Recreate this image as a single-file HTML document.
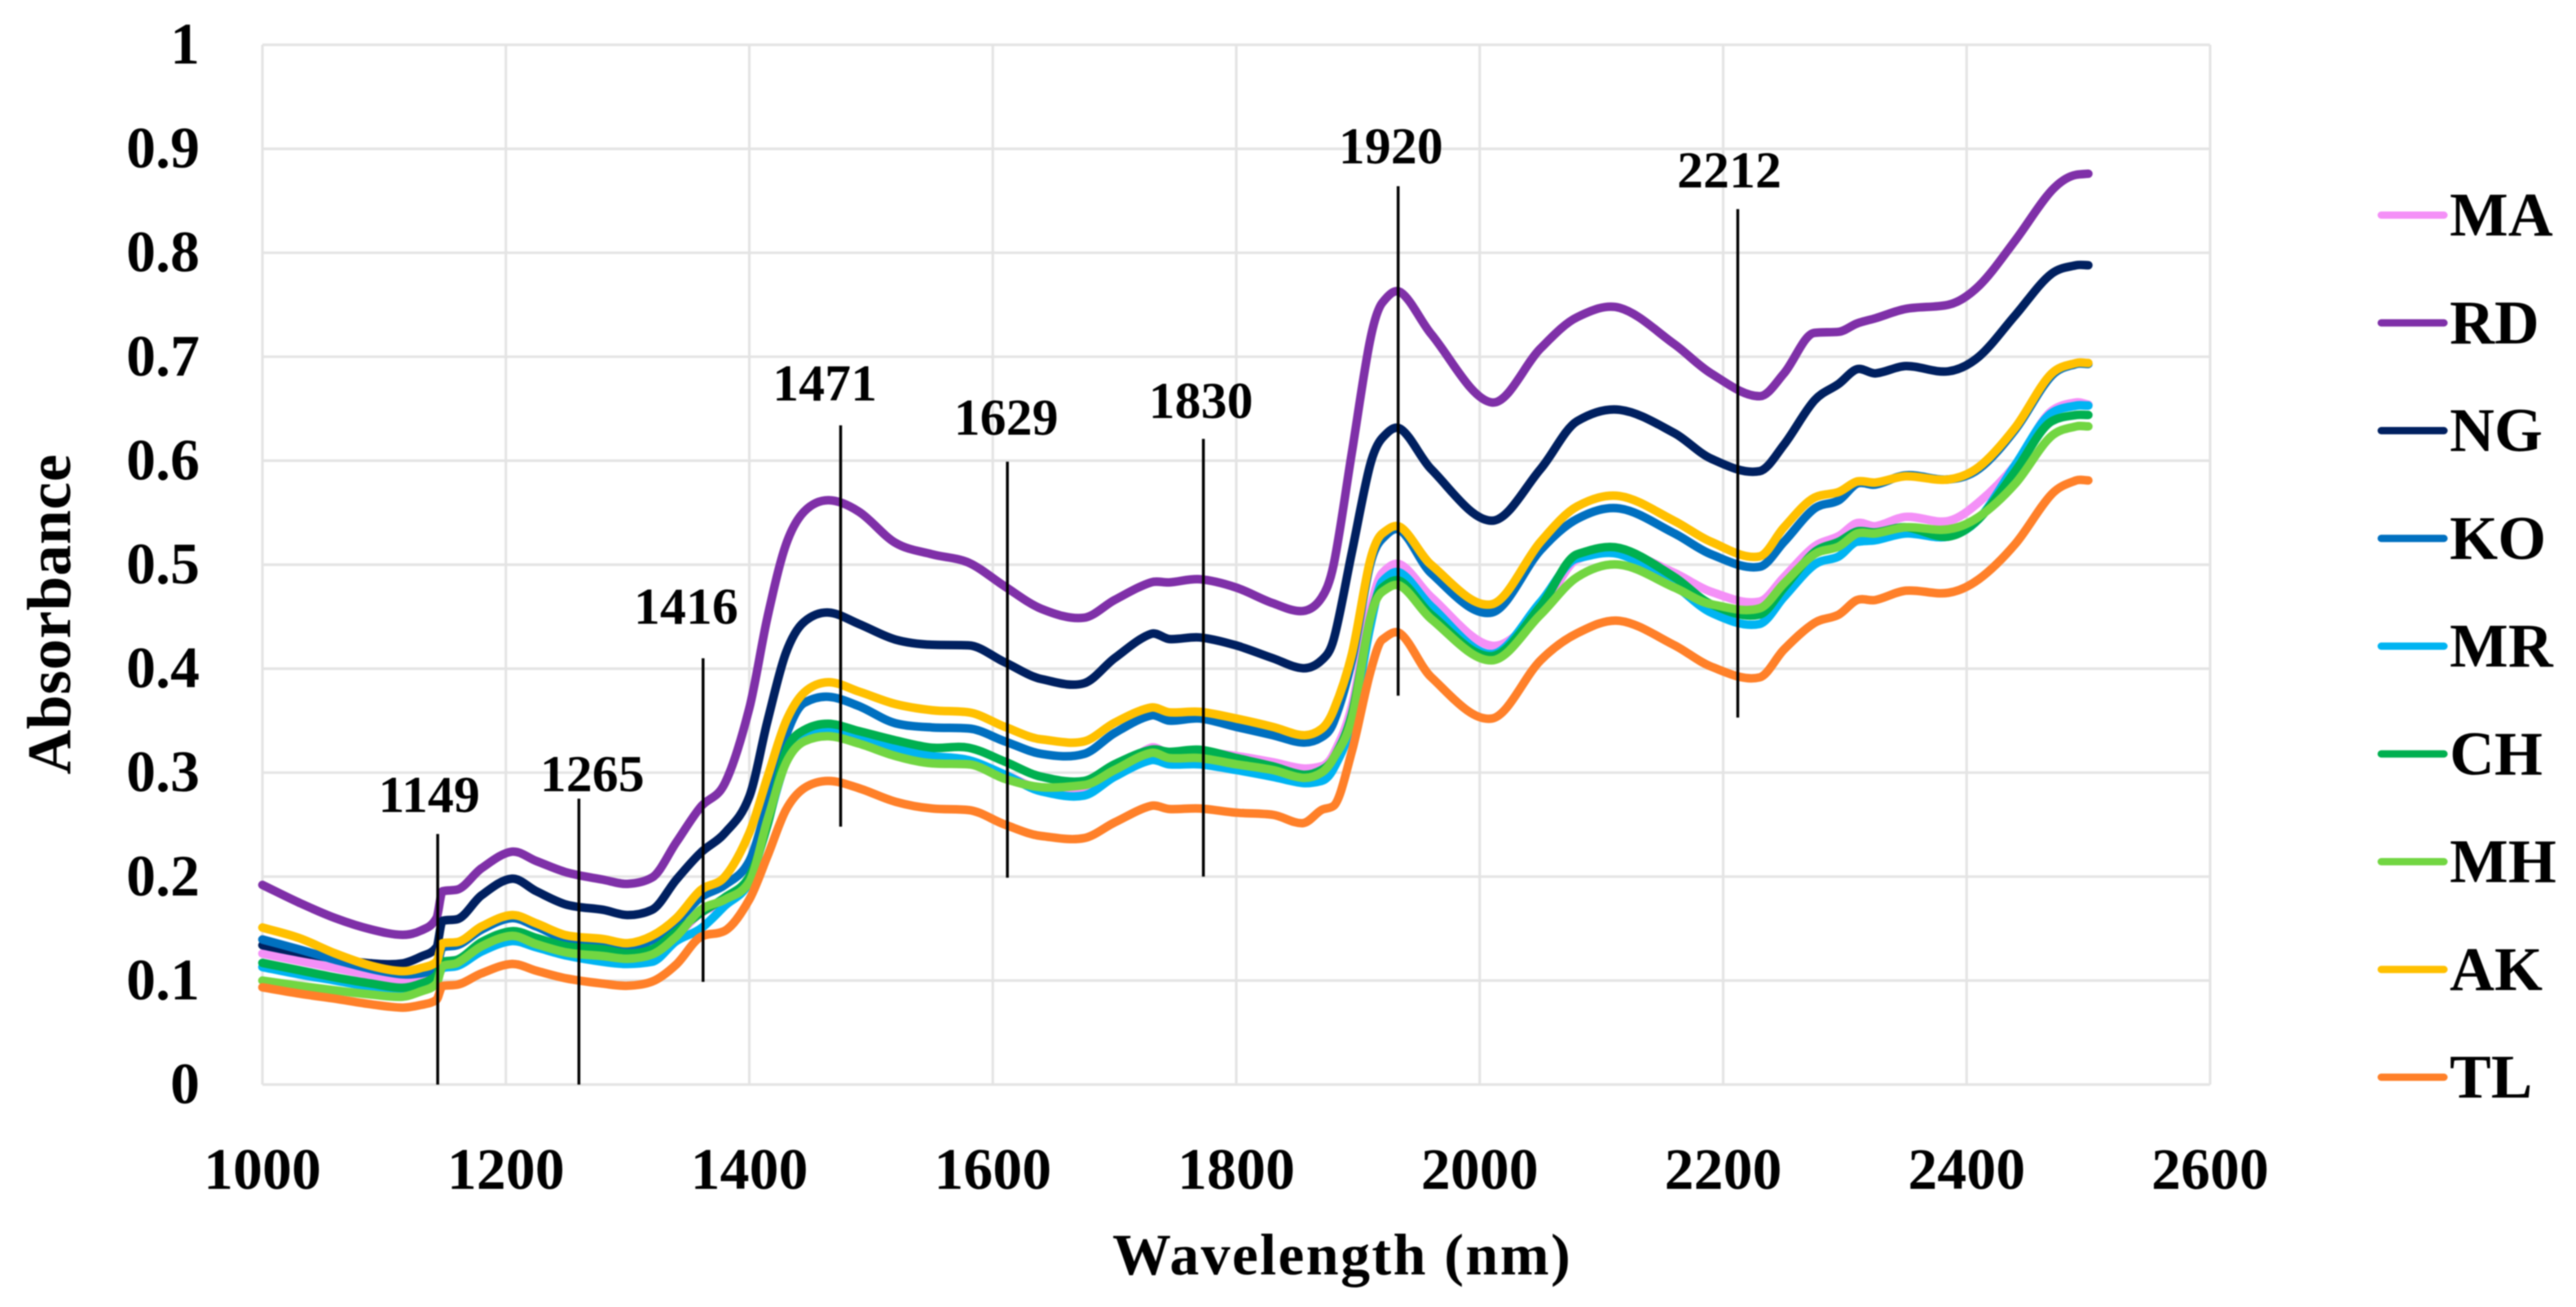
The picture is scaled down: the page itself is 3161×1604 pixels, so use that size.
<!DOCTYPE html>
<html lang="en">
<head>
<meta charset="utf-8">
<title>Absorbance spectra</title>
<style>
html,body{margin:0;padding:0;background:#fff;}
svg{display:block;filter:blur(0.7px);}
text{font-family:"Liberation Serif",serif;font-weight:bold;fill:#000;}
</style>
</head>
<body>
<svg id="chart" xmlns="http://www.w3.org/2000/svg" width="3161" height="1604" viewBox="0 0 3161 1604">
<rect width="3161" height="1604" fill="#fff"/>
<g id="grid"></g>
<g id="ticks"></g>
<g id="series"></g>
<g id="bands"></g>
<g id="legend"></g>
<text x="1646" y="1564" font-size="72" text-anchor="middle" textLength="562" lengthAdjust="spacing">Wavelength (nm)</text>
<text transform="translate(86,754) rotate(-90)" font-size="76" text-anchor="middle" textLength="393" lengthAdjust="spacing">Absorbance</text>
</svg>
<script>
const wavelengths = [1000,1030,1060,1090,1115,1130,1143,1148,1160,1180,1205,1225,1250,1280,1300,1320,1340,1360,1380,1400,
1415,1430,1445,1465,1490,1520,1550,1580,1610,1640,
1675,1700,1730,1745,1770,1800,1830,1855,1870,1880,
1895,1910,1920,1935,1960,2010,2050,2080,2115,2160,
2190,2230,2250,2275,2295,2310,2325,2350,2385,2410,
2440,2470,2490,2500];

const valuesMA = [.126,.119,.112,.105,.100,.101,.107,.118,.120,.134,.146,.139,.128,.125,.121,.127,.143,.165,.176,.196,
.252,.310,.333,.341,.334,.322,.314,.310,.298,.284,
.286,.300,.324,.318,.320,.316,.310,.304,.306,.318,
.364,.456,.492,.500,.469,.422,.456,.505,.513,.492,
.474,.4645,.488,.5175,.5275,.540,.537,.546,.542,.560,
.596,.648,.656,.654];

const valuesRD = [.192,.175,.160,.149,.144,.148,.160,.186,.1875,.208,.224,.215,.204,.197,.193,.199,.233,.267,.290,.362,
.450,.519,.551,.562,.551,.521,.510,.502,.479,.4575,
.449,.466,.483,.483,.486,.478,.463,.4555,.468,.500,
.608,.716,.752,.762,.722,.656,.708,.738,.747,.712,
.684,.662,.684,.723,.724,.732,.737,.746,.750,.768,
.812,.860,.875,.876];

const valuesNG = [.134,.127,.121,.1165,.1165,.123,.132,.1575,.159,.182,.198,.186,.173,.168,.163,.168,.197,.223,.242,.277,
.350,.415,.445,.454,.443,.428,.423,.4224,.406,.390,
.386,.410,.4335,.4285,.430,.4223,.410,.4004,.408,.428,
.512,.596,.622,.6306,.592,.5423,.592,.638,.649,.6265,
.602,.590,.6155,.658,.674,.688,.684,.691,.686,.700,
.740,.780,.788,.788];

const valuesKO = [.1395,.130,.120,.111,.106,.107,.113,.132,.134,.149,.160,.152,.140,.137,.133,.139,.156,.180,.192,.215,
.270,.335,.367,.373,.364,.3475,.3435,.3425,.330,.318,
.318,.338,.355,.350,.352,.344,.336,.329,.334,.3485,
.408,.500,.525,.533,.492,.454,.514,.544,.554,.530,
.510,.498,.522,.554,.562,.578,.577,.586,.582,.592,
.630,.682,.693,.693];

const valuesMR = [.113,.106,.100,.094,.092,.094,.100,.112,.114,.128,.138,.132,.124,.118,.116,.118,.138,.150,.172,.195,
.252,.310,.333,.341,.334,.323,.316,.312,.298,.282,
.278,.296,.312,.308,.308,.3025,.296,.290,.292,.304,
.348,.440,.484,.492,.460,.414,.464,.506,.510,.480,
.454,.443,.469,.500,.508,.522,.5235,.530,.527,.544,
.596,.646,.653,.653];

const valuesCH = [.117,.110,.103,.097,.093,.097,.105,.118,.120,.137,.1475,.141,.133,.130,.126,.130,.147,.165,.180,.200,
.250,.320,.341,.347,.340,.331,.324,.324,.3105,.296,
.292,.308,.322,.320,.322,.314,.306,.298,.3025,.314,
.356,.448,.478,.484,.452,.412,.460,.510,.516,.488,
.462,.452,.478,.512,.522,.532,.531,.536,.527,.544,
.590,.638,.644,.644];

const valuesMH = [.100,.095,.0905,.0865,.0845,.0895,.097,.114,.117,.133,.143,.135,.127,.1235,.121,.125,.1425,.168,.178,.195,
.255,.309,.330,.335,.328,.316,.309,.308,.294,.286,
.288,.3025,.319,.314,.314,.308,.3025,.295,.300,.314,
.352,.448,.474,.4795,.448,.408,.452,.488,.500,.478,
.462,.458,.482,.510,.5175,.530,.530,.536,.534,.546,
.578,.624,.633,.633];

const valuesAK = [.151,.141,.126,.114,.109,.112,.118,.136,.137,.152,.163,.155,.1435,.140,.136,.143,.160,.187,.200,.242,
.296,.349,.377,.387,.378,.366,.360,.358,.344,.332,
.330,.348,.3626,.358,.3585,.352,.344,.336,.342,.360,
.414,.504,.530,.536,.500,.462,.522,.556,.566,.542,
.522,.508,.536,.5645,.570,.580,.579,.585,.582,.594,
.632,.684,.694,.694];

const valuesTL = [.0935,.0875,.0825,.077,.074,.0765,.0815,.0948,.096,.107,.116,.1095,.102,.097,.095,.099,.1155,.142,.148,.178,
.220,.264,.285,.292,.285,.272,.2655,.264,.250,.239,
.237,.252,.268,.265,.2655,.2615,.2595,.2515,.264,.268,
.3205,.396,.428,.4335,.392,.352,.408,.434,.446,.4225,
.402,.3916,.4185,.444,.452,.466,.466,.475,.473,.486,
.520,.568,.581,.581];

const seriesNames = ['MA','RD','NG','KO','MR','CH','MH','AK','TL'];
const seriesValues = [valuesMA,valuesRD,valuesNG,valuesKO,valuesMR,valuesCH,valuesMH,valuesAK,valuesTL];
const seriesColors = ['#F490F7','#7F30A8','#002060','#0070C0','#00B4F2','#00B050','#72D642','#FFC000','#FF8029'];

const xTickValues = [1000,1200,1400,1600,1800,2000,2200,2400,2600];
const yTickValues = [0,0.1,0.2,0.3,0.4,0.5,0.6,0.7,0.8,0.9,1];

const bandLabels = ['1149','1265','1416','1471','1629','1830','1920','2212'];
const bandLineNm = [1144,1260,1362,1475,1612,1773,1933,2212];
const bandLineTop = [.241,.275,.410,.634,.599,.621,.864,.842];
const bandLineBottom = [0,0,.0987,.248,.199,.200,.374,.353];
const bandLabelNm = [1137,1271,1348,1462,1611,1771,1927,2205];
const bandLabelAbs = [.262,.282,.443,.658,.625,.641,.886,.863];

const NS = 'http://www.w3.org/2000/svg';
const plotLeft = 322, plotRight = 2712, plotTop = 55, plotBottom = 1331;
const xDomain = [1000,2600], yDomain = [0,1];
function xScale(v){ return plotLeft + (v - xDomain[0]) / (xDomain[1] - xDomain[0]) * (plotRight - plotLeft); }
function yScale(v){ return plotBottom - (v - yDomain[0]) / (yDomain[1] - yDomain[0]) * (plotBottom - plotTop); }
function make(tag, attrs){
  const el = document.createElementNS(NS, tag);
  for (const k in attrs) el.setAttribute(k, attrs[k]);
  return el;
}
function smoothPath(xs, ys){
  const n = xs.length, m = new Array(n);
  const d = [];
  for (let i = 0; i < n - 1; i++) d.push((ys[i+1] - ys[i]) / (xs[i+1] - xs[i]));
  m[0] = d[0]; m[n-1] = d[n-2];
  for (let i = 1; i < n - 1; i++) {
    let s = (ys[i+1] - ys[i-1]) / (xs[i+1] - xs[i-1]);
    const lim = 2.2 * Math.min(Math.abs(d[i-1]), Math.abs(d[i]));
    if (d[i-1] * d[i] > 0 && Math.abs(s) > lim) s = Math.sign(s) * lim;
    m[i] = s;
  }
  let p = 'M' + xs[0].toFixed(1) + ' ' + ys[0].toFixed(1);
  for (let i = 0; i < n - 1; i++) {
    const h = (xs[i+1] - xs[i]) / 3;
    p += 'C' + (xs[i]+h).toFixed(1) + ' ' + (ys[i]+m[i]*h).toFixed(1) + ' ' +
         (xs[i+1]-h).toFixed(1) + ' ' + (ys[i+1]-m[i+1]*h).toFixed(1) + ' ' +
         xs[i+1].toFixed(1) + ' ' + ys[i+1].toFixed(1);
  }
  return p;
}

const gridG = document.getElementById('grid');
const ticksG = document.getElementById('ticks');
xTickValues.forEach(function(t){
  const line = make('line', {x1:xScale(t), x2:xScale(t), y1:plotTop, y2:plotBottom, stroke:'#E4E4E4', 'stroke-width':3.2});
  
  
  gridG.appendChild(line);
  const label = make('text', {x:xScale(t), y:1459, 'font-size':72, 'text-anchor':'middle'});
  
  
  label.textContent = String(t);
  ticksG.appendChild(label);
});
yTickValues.forEach(function(t){
  const line = make('line', {x1:plotLeft, x2:plotRight, y1:yScale(t), y2:yScale(t), stroke:'#E4E4E4', 'stroke-width':3.2});
  
  
  gridG.appendChild(line);
  const label = make('text', {x:245, y:yScale(t)+23, 'font-size':72, 'text-anchor':'end'});
  
  
  label.textContent = String(t);
  ticksG.appendChild(label);
});

const seriesG = document.getElementById('series');
const legendG = document.getElementById('legend');
const xPixels = wavelengths.map(xScale);
seriesNames.forEach(function(name, i){
  const path = make('path', {d:smoothPath(xPixels, seriesValues[i].map(yScale)), fill:'none', stroke:seriesColors[i], 'stroke-width':10.5, 'stroke-linecap':'round', 'stroke-linejoin':'round'});
  
  
  seriesG.appendChild(path);
  const ly = 264 + i * 132.25;
  const key = make('line', {x1:2922, x2:2999, y1:ly, y2:ly, stroke:seriesColors[i], 'stroke-width':9, 'stroke-linecap':'round'});
  
  
  legendG.appendChild(key);
  const txt = make('text', {x:3006, y:ly+25, 'font-size':76});
  
  
  txt.textContent = name;
  legendG.appendChild(txt);
});

const bandsG = document.getElementById('bands');
bandLabels.forEach(function(lbl, i){
  const line = make('line', {x1:xScale(bandLineNm[i]), x2:xScale(bandLineNm[i]), y1:yScale(bandLineTop[i]), y2:yScale(bandLineBottom[i]), stroke:'#000', 'stroke-width':3.5});
  
  
  bandsG.appendChild(line);
  const txt = make('text', {x:xScale(bandLabelNm[i]), y:yScale(bandLabelAbs[i]), 'font-size':64, 'text-anchor':'middle'});
  
  
  txt.textContent = lbl;
  bandsG.appendChild(txt);
});
</script>
</body>
</html>
